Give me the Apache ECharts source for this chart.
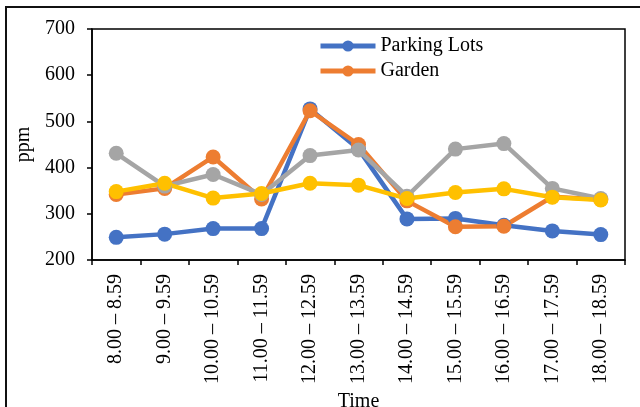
<!DOCTYPE html>
<html>
<head>
<meta charset="utf-8">
<script src="https://cdn.jsdelivr.net/npm/echarts@6/dist/echarts.min.js"></script>
<style>
  html, body { margin: 0; padding: 0; background: #fff; }
  #chart { width: 640px; height: 407px; }
</style>
</head>
<body>
<div id="chart"></div>
<script>
// Hourly CO2 readings (ppm) per monitoring site
const timeSlots = ['8.00 – 8.59', '9.00 – 9.59', '10.00 – 10.59', '11.00 – 11.59', '12.00 – 12.59',
  '13.00 – 13.59', '14.00 – 14.59', '15.00 – 15.59', '16.00 – 16.59', '17.00 – 17.59', '18.00 – 18.59'];
const parkingLots = [249, 256, 268, 268, 527, 440, 289, 290, 275, 263, 255];
const garden = [342, 355, 423, 332, 523, 450, 328, 272, 273, 337, 331];
const siteC = [431, 360, 385, 342, 426, 438, 338, 440, 452, 355, 333];
const siteD = [348, 366, 334, 344, 366, 362, 333, 346, 354, 336, 330];
const yTicks = [200, 300, 400, 500, 600, 700];

const FONT = 'Liberation Serif';
const chart = echarts.init(document.getElementById('chart'));

function lineSeries(name, data, color) {
  return {
    name: name,
    type: 'line',
    data: data,
    symbol: 'circle',
    symbolSize: 15,
    lineStyle: { color: color, width: 4.5 },
    itemStyle: { color: color },
    emphasis: { disabled: true },
    animation: false
  };
}

chart.setOption({
  backgroundColor: '#fff',
  textStyle: { fontFamily: FONT, color: '#000' },
  graphic: [{
    type: 'rect',
    shape: { x: 6, y: 7, width: 700, height: 460 },
    style: { fill: 'none', stroke: '#111', lineWidth: 2 },
    silent: true
  }],
  grid: {
    left: 92, right: 15, top: 29, bottom: 147,
    outerBoundsMode: 'none',
    containLabel: false,
    show: true, borderColor: '#000', borderWidth: 1.5, backgroundColor: 'transparent'
  },
  legend: {
    data: ['Parking Lots', 'Garden'],
    orient: 'vertical',
    left: 318, top: 36,
    padding: 0,
    itemWidth: 55, itemHeight: 14, itemGap: 5,
    textStyle: { fontFamily: FONT, fontSize: 20, color: '#000' },
    lineStyle: { width: 5 }
  },
  xAxis: {
    type: 'category',
    data: timeSlots,
    boundaryGap: true,
    name: 'Time',
    nameLocation: 'middle',
    nameGap: 126,
    nameTextStyle: { fontFamily: FONT, fontSize: 20, color: '#000' },
    axisLine: { lineStyle: { color: '#000', width: 1.5 } },
    axisTick: { show: true, length: 5, alignWithLabel: false, lineStyle: { color: '#000', width: 1.5 } },
    axisLabel: { rotate: 90, margin: 14, interval: 0, fontFamily: FONT, fontSize: 20, color: '#000' },
    splitLine: { show: false }
  },
  yAxis: {
    type: 'value',
    min: yTicks[0], max: yTicks[yTicks.length - 1], interval: 100,
    name: 'ppm',
    nameLocation: 'middle',
    nameGap: 50,
    nameTextStyle: { fontFamily: FONT, fontSize: 20, color: '#000' },
    axisLine: { show: true, lineStyle: { color: '#000', width: 1.5 } },
    axisTick: { show: true, length: 5, lineStyle: { color: '#000', width: 1.5 } },
    axisLabel: { margin: 17, fontFamily: FONT, fontSize: 20, color: '#000' },
    splitLine: { show: false }
  },
  series: [
    lineSeries('Parking Lots', parkingLots, '#4472C4'),
    lineSeries('Garden', garden, '#ED7D31'),
    lineSeries('Site C', siteC, '#A5A5A5'),
    lineSeries('Site D', siteD, '#FFC000')
  ]
});
</script>
</body>
</html>
